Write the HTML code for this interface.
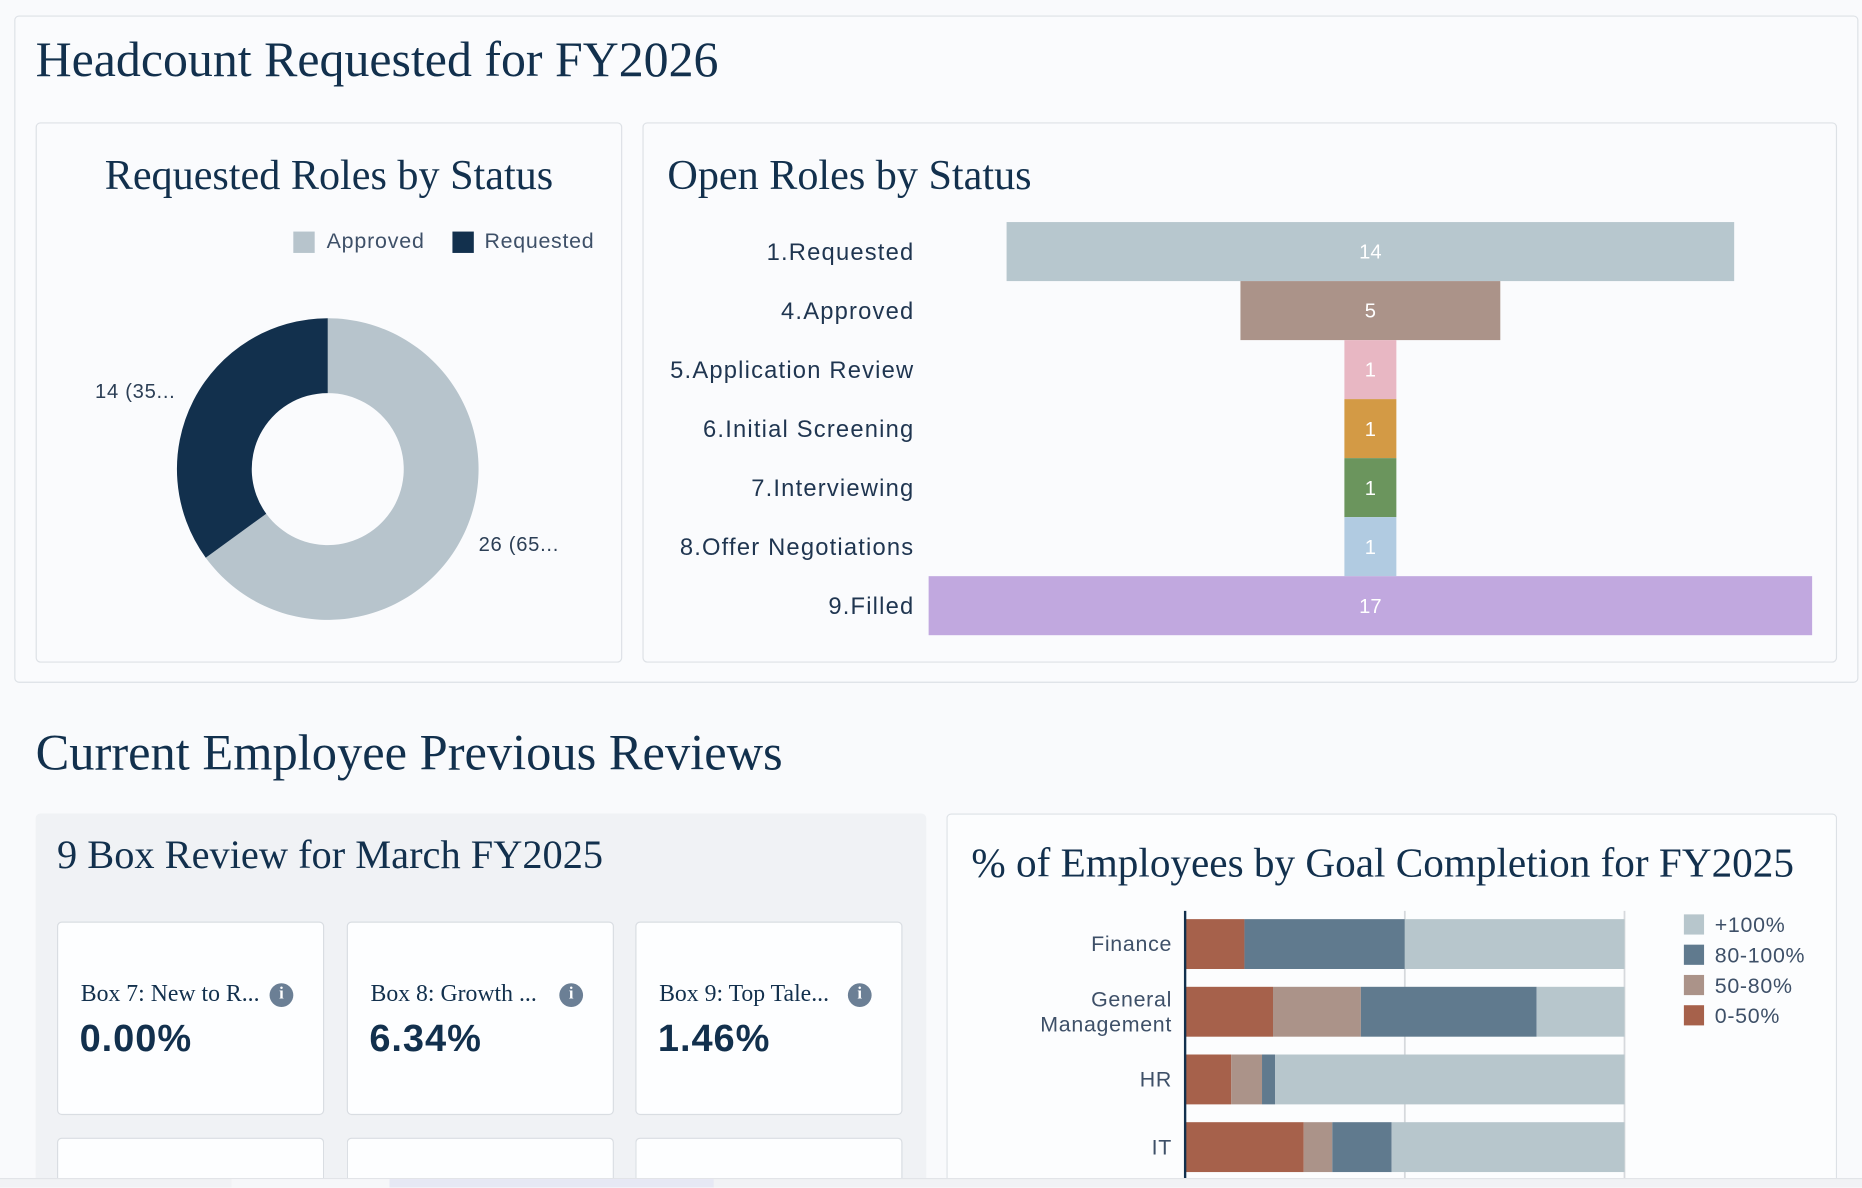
<!DOCTYPE html>
<html><head><meta charset="utf-8">
<style>
html,body{margin:0;padding:0;width:1862px;height:1188px;overflow:hidden;background:#f9fafc;}
#clip{position:absolute;left:0;top:0;width:1862px;height:1188px;overflow:hidden;}
#wrap{position:absolute;left:0;top:0;width:1568px;height:1000px;overflow:hidden;transform:scale(1.1875);transform-origin:0 0;font-family:"Liberation Sans",sans-serif;color:#12304d;}
.abs{position:absolute;}
.serif{font-family:"Liberation Serif",serif;color:#12304d;}
.card{position:absolute;border:1px solid #dde1e6;border-radius:4px;background:#fafbfd;box-sizing:border-box;}
.kpi{position:absolute;background:#fdfeff;border:1px solid #d9dde2;border-radius:4px;box-sizing:border-box;width:225px;height:163px;}
.kt{position:absolute;left:19px;top:49px;font-family:"Liberation Serif",serif;font-size:20px;color:#12304d;}
.kv{position:absolute;left:18px;top:79px;font-size:32px;font-weight:bold;color:#12304d;letter-spacing:0.8px;}
.info{position:absolute;left:178px;top:51px;width:20px;height:20px;border-radius:50%;background:#6b7f95;color:#fff;font-size:14px;font-weight:bold;text-align:center;line-height:20px;font-family:"Liberation Serif",serif;}
</style></head><body>
<div id="clip">
<div id="wrap">
<div class="card" style="left:12px;top:13px;width:1553px;height:562px;"></div>
<div class="abs serif" style="left:30px;top:27px;font-size:42px;">Headcount Requested for FY2026</div>

<div class="card" style="left:30px;top:103px;width:494px;height:455px;"></div>
<div class="abs serif" style="left:30px;width:494px;text-align:center;top:126px;font-size:35.5px;">Requested Roles by Status</div>
<div class="abs" style="left:247px;top:195px;width:18px;height:18px;background:#b7c4cc;"></div>
<div class="abs" style="left:275px;top:193px;font-size:18px;color:#3e5068;letter-spacing:0.7px;">Approved</div>
<div class="abs" style="left:381px;top:195px;width:18px;height:18px;background:#12304d;"></div>
<div class="abs" style="left:408px;top:193px;font-size:18px;color:#3e5068;letter-spacing:0.6px;">Requested</div>
<svg class="abs" style="left:0;top:0" width="560" height="560" id="donut"></svg>
<div class="abs" style="left:80px;top:320px;font-size:17px;color:#2b3e55;letter-spacing:0.6px;">14 (35...</div>
<div class="abs" style="left:403px;top:449px;font-size:17px;color:#2b3e55;letter-spacing:0.6px;">26 (65...</div>

<div class="card" style="left:541px;top:103px;width:1006px;height:455px;"></div>
<div class="abs serif" style="left:562px;top:126px;font-size:35.5px;">Open Roles by Status</div>
<svg class="abs" style="left:0;top:0" width="1568" height="560" id="funnel"></svg>

<div class="abs serif" style="left:30px;top:610px;font-size:42.5px;">Current Employee Previous Reviews</div>

<div class="abs" style="left:30px;top:685px;width:750px;height:307px;background:#f0f2f5;border-radius:4px 4px 0 0;"></div>
<div class="abs serif" style="left:48px;top:702px;font-size:34px;">9 Box Review for March FY2025</div>
<div class="kpi" style="left:48px;top:776px;"><div class="kt">Box 7: New to R...</div><div class="info">i</div><div class="kv">0.00%</div></div>
<div class="kpi" style="left:292px;top:776px;"><div class="kt">Box 8: Growth ...</div><div class="info">i</div><div class="kv">6.34%</div></div>
<div class="kpi" style="left:535px;top:776px;"><div class="kt">Box 9: Top Tale...</div><div class="info">i</div><div class="kv">1.46%</div></div>
<div class="kpi" style="left:48px;top:958px;height:34px;border-bottom:none;border-radius:4px 4px 0 0;"></div>
<div class="kpi" style="left:292px;top:958px;height:34px;border-bottom:none;border-radius:4px 4px 0 0;"></div>
<div class="kpi" style="left:535px;top:958px;height:34px;border-bottom:none;border-radius:4px 4px 0 0;"></div>

<div class="card" style="left:797px;top:685px;width:750px;height:307px;background:#fcfdfe;border-bottom:none;border-radius:4px 4px 0 0;"></div>
<div class="abs serif" style="left:818px;top:707px;font-size:34.7px;">% of Employees by Goal Completion for FY2025</div>
<svg class="abs" style="left:0;top:0" width="1568" height="992" id="goal"></svg>

<div class="abs" style="left:0;top:992px;width:1568px;height:7px;background:#f1f2f5;border-top:1px solid #e2e4e8;"></div>
<div class="abs" style="left:195px;top:993px;width:133px;height:7px;background:#f6f7f9;"></div>
<div class="abs" style="left:328px;top:993px;width:273px;height:7px;background:#e6e8f4;"></div>
</div>
</div>
<script>
const NS="http://www.w3.org/2000/svg";
function mk(p,t,a){const e=document.createElementNS(NS,t);for(const k in a)e.setAttribute(k,a[k]);p.appendChild(e);return e;}

// Donut
const donutLabels=["Approved","Requested"];
const donutValues=[26,14];
const donutColors=["#b7c4cc","#12304d"];
(function(){
 const svg=document.getElementById('donut');const cx=276,cy=395,R=127,r=64;
 const tot=donutValues.reduce((a,b)=>a+b,0);let a0=0;
 donutValues.forEach((v,i)=>{
  const a1=a0+v/tot*2*Math.PI;
  const p=(ang,rad)=>[cx+rad*Math.sin(ang),cy-rad*Math.cos(ang)];
  const [x0,y0]=p(a0,R),[x1,y1]=p(a1,R),[x2,y2]=p(a1,r),[x3,y3]=p(a0,r);
  const lg=(a1-a0)>Math.PI?1:0;
  const e=mk(svg,'path',{d:`M${x0},${y0}A${R},${R} 0 ${lg} 1 ${x1},${y1}L${x2},${y2}A${r},${r} 0 ${lg} 0 ${x3},${y3}Z`,fill:donutColors[i]});
  
  
  a0=a1;
 });
})();

// Funnel
const funnelStages=["1.Requested","4.Approved","5.Application Review","6.Initial Screening","7.Interviewing","8.Offer Negotiations","9.Filled"];
const funnelValues=[14,5,1,1,1,1,17];
const funnelColors=["#b7c7ce","#ab9389","#e8b7c3","#d39a45","#6b955d","#b1cbe1","#c1a8df"];
(function(){
 const svg=document.getElementById('funnel');const cx=1154,unit=744/17,top=187,h=49.7;
 funnelValues.forEach((v,i)=>{
  const w=v*unit,y=top+i*h;
  const b=mk(svg,'rect',{x:cx-w/2,y:y,width:w,height:h,fill:funnelColors[i]});
  
  
  const t=mk(svg,'text',{x:cx,y:y+h/2+6,'text-anchor':'middle','font-size':17,fill:'#fff','font-family':'Liberation Sans, sans-serif'});t.textContent=v;
  
  
  const l=mk(svg,'text',{x:770,y:y+h/2+7,'text-anchor':'end','font-size':20,'letter-spacing':1,fill:'#1f3550','font-family':'Liberation Sans, sans-serif'});l.textContent=funnelStages[i];
  
  
 });
})();

// Goal completion stacked bars (percent)
const goalDepts=[["Finance"],["General","Management"],["HR"],["IT"]];
const goalLow=[13.5,20,10.5,27];
const goalMid=[0,20,7,6.5];
const goalHigh=[36.5,40,3,13.5];
const goalOver=[50,20,79.5,53];
const goalSeries=["+100%","80-100%","50-80%","0-50%"];
const goalColors=["#b7c6cc","#607a8e","#ab9389","#a6614b"];
(function(){
 const svg=document.getElementById('goal');const x0=998,W=370,top=774,band=57,bh=42;
 const X=p=>x0+p/100*W;
 [50,100].forEach(g=>{const l=mk(svg,'line',{x1:X(g),x2:X(g),y1:767,y2:992,stroke:'#d6d9dd','stroke-width':1.5});
  
  });
 const stacks=[goalLow,goalMid,goalHigh,goalOver];const cols=[goalColors[3],goalColors[2],goalColors[1],goalColors[0]];
 goalDepts.forEach((d,i)=>{
  let acc=0;const y=top+i*band;
  stacks.forEach((s,j)=>{const r=mk(svg,'rect',{x:X(acc),y:y,width:X(acc+s[i])-X(acc),height:bh,fill:cols[j]});
   
   
   acc+=s[i];});
  d.forEach((line,k)=>{const t=mk(svg,'text',{x:987,y:y+bh/2+6+(k-(d.length-1)/2)*21,'text-anchor':'end','font-size':18,'letter-spacing':0.6,fill:'#3e5068','font-family':'Liberation Sans, sans-serif'});t.textContent=line;
   
   });
 });
 const ax=mk(svg,'line',{x1:x0,x2:x0,y1:767,y2:992,stroke:'#12304d','stroke-width':2});
 
 
 goalSeries.forEach((s,i)=>{const y=770+i*25.5;
  const r=mk(svg,'rect',{x:1418,y:y,width:17,height:17,fill:goalColors[i]});
  
  
  const t=mk(svg,'text',{x:1444,y:y+15,'font-size':18,'letter-spacing':0.6,fill:'#3e5068','font-family':'Liberation Sans, sans-serif'});t.textContent=s;
  
  });
})();
</script>
</body></html>
